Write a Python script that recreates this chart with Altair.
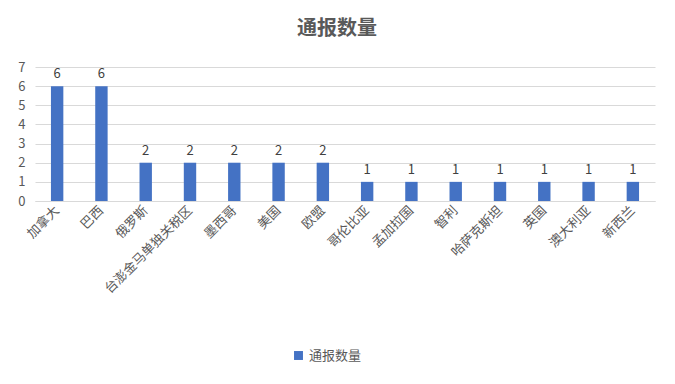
import altair as alt
import pandas as pd

countries = ["加拿大", "巴西", "俄罗斯", "台澎金马单独关税区", "墨西哥", "美国", "欧盟",
             "哥伦比亚", "孟加拉国", "智利", "哈萨克斯坦", "英国", "澳大利亚", "新西兰"]
counts = [6, 6, 2, 2, 2, 2, 2, 1, 1, 1, 1, 1, 1, 1]
y_ticks = [0, 1, 2, 3, 4, 5, 6, 7]
series_name = "通报数量"

df = pd.DataFrame({"国家": countries, "数量": counts, "系列": [series_name] * len(countries)})

FONT = "Noto Sans CJK SC"
BLUE = "#4472C4"

base = alt.Chart(df).encode(
    x=alt.X("国家:N", sort=countries, title=None,
            scale=alt.Scale(paddingInner=0.72, paddingOuter=0.36),
            axis=alt.Axis(labelAngle=-45, labelAlign="right", labelBaseline="middle",
                          labelFontSize=13, labelColor="#595959", labelFont=FONT,
                          ticks=False, grid=False, domainColor="#d9d9d9", labelPadding=7,
                          labelLimit=200, labelOverlap=False)),
    y=alt.Y("数量:Q", title=None, scale=alt.Scale(domain=[0, 7]),
            axis=alt.Axis(values=y_ticks, domain=False, ticks=False,
                          labelOverlap=False, labelFontSize=13, labelColor="#595959",
                          labelFont=FONT, gridColor="#d9d9d9", labelPadding=10)),
)

bars = base.mark_bar(color=BLUE).encode(
    color=alt.Color("系列:N", scale=alt.Scale(range=[BLUE]),
                    legend=alt.Legend(title=None, orient="none", legendX=257, legendY=282,
                                      symbolType="square", symbolSize=80,
                                      labelFontSize=13, labelColor="#595959", labelFont=FONT)),
)

labels = base.mark_text(dy=-12, fontSize=13, color="#404040", font=FONT).encode(
    text=alt.Text("数量:Q"),
)

chart = alt.layer(bars, labels).properties(
    width=620, height=134,
    background="white",
    title=alt.TitleParams(series_name, fontSize=20, font=FONT, fontWeight="bold",
                          color="#595959", anchor="middle", offset=22, dx=-8),
    autosize=alt.AutoSizeParams(type="none"),
    padding={"left": 35, "top": 67, "right": 20, "bottom": 183},
).configure_view(stroke=None)

chart.save("out.html", embed_options={"renderer": "svg", "actions": False})
